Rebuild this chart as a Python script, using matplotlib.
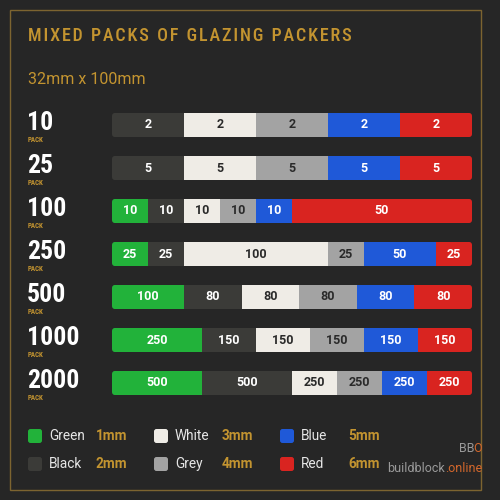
"""
Mixed packs of glazing packers - stacked colour bars.
"""

import matplotlib.pyplot as plt
import matplotlib.transforms as mtransforms
from matplotlib import font_manager
from matplotlib.patches import FancyBboxPatch, Rectangle


# ==========================================================
# Data
# ==========================================================

title = "MIXED PACKS OF GLAZING PACKERS"
subtitle = "32mm x 100mm"

packs = ["10", "25", "100", "250", "500", "1000", "2000"]

green = [0, 0, 10, 25, 100, 250, 500]
black = [2, 5, 10, 25, 80, 150, 500]
white = [2, 5, 10, 100, 80, 150, 250]
grey = [2, 5, 10, 25, 80, 150, 250]
blue = [2, 5, 10, 50, 80, 150, 250]
red = [2, 5, 50, 25, 80, 150, 250]

colour_names = ["Green", "Black", "White", "Grey", "Blue", "Red"]
thickness = ["1mm", "2mm", "3mm", "4mm", "5mm", "6mm"]

# ==========================================================
# Style
# ==========================================================

BG = "#262626"
GOLD = "#c39430"
BORDER = "#7d6430"
ORANGE = "#d2672c"
COLORS = ["#22b23a", "#3b3b38", "#efece6", "#a3a3a3", "#1f59d8", "#d92420"]
TEXT_ON = ["white", "white", "#2a2a2a", "#2a2a2a", "white", "white"]

SANS = ["Roboto", "DejaVu Sans"]


def pick_narrow():
    """First condensed family that is really installed."""
    for name in ["Roboto Condensed", "Liberation Sans Narrow",
                 "DejaVu Sans Condensed"]:
        try:
            font_manager.findfont(
                font_manager.FontProperties(family=name),
                fallback_to_default=False
            )
            return [name, "Roboto", "DejaVu Sans"], 1.0
        except ValueError:
            continue
    return ["Roboto", "DejaVu Sans"], 0.85


NARROW, SCALE = pick_narrow()


def spaced(text):
    # a hair space between letters, wider gap between words
    words = ["\u200a".join(w) for w in text.split(" ")]
    return "  ".join(words)


def px(x):
    return x / 500


def py(y):
    return 1 - y / 500


fig = plt.figure(figsize=(5, 5), dpi=100, facecolor=BG)

# frame
fig.patches.append(
    Rectangle(
        (px(10), py(490)), px(481) - px(10), py(10) - py(490),
        transform=fig.transFigure, fill=False,
        edgecolor=BORDER, linewidth=1.0
    )
)

fig.text(
    px(28), py(36), spaced(title),
    color=GOLD, fontsize=12 * SCALE + 1, family=NARROW,
    fontweight="medium", va="center"
)

fig.text(
    px(28), py(79), subtitle,
    color=GOLD, fontsize=11.5, family=SANS, va="center"
)

# ==========================================================
# Bars
# ==========================================================

ax = fig.add_axes([px(112), py(404.5), px(360), px(301)])
ax.set_xlim(0, 1)
ax.set_ylim(len(packs) - 0.5, -0.5)
ax.axis("off")

rows = list(range(len(packs)))
totals = [int(p) for p in packs]
series = [green, black, white, grey, blue, red]

bar_h = 0.56
aspect = (1 / 43) / (1 / 360)

clips = []
for i in rows:
    clip = FancyBboxPatch(
        (0, i - bar_h / 2), 1, bar_h,
        boxstyle="round,pad=0,rounding_size=0.009",
        mutation_aspect=aspect,
        transform=ax.transData,
        facecolor="none", edgecolor="none"
    )
    ax.add_patch(clip)
    clips.append(clip)

left = [0.0] * len(packs)
for values, color, tcol in zip(series, COLORS, TEXT_ON):
    widths = [v / t for v, t in zip(values, totals)]
    bars = ax.barh(
        rows, widths, left=left, height=bar_h,
        color=color, edgecolor="none", linewidth=0
    )
    for i, patch in enumerate(bars.patches):
        patch.set_clip_path(clips[i])
        if values[i] > 0:
            ax.text(
                left[i] + widths[i] / 2, i, str(values[i]),
                ha="center", va="center", color=tcol,
                fontsize=9, fontweight="bold", family=SANS
            )
    left = [l + w for l, w in zip(left, widths)]

# pack labels on the left
blend = mtransforms.blended_transform_factory(fig.transFigure, ax.transData)
for i, p in enumerate(packs):
    ax.text(
        px(27), i - 0.04, p, transform=blend,
        color="white", fontsize=16.5 * SCALE + 2, fontweight="bold",
        family=NARROW, ha="left", va="center", clip_on=False
    )
    ax.text(
        px(28), i + 0.34, "PACK", transform=blend,
        color=GOLD, fontsize=5, fontweight="bold",
        family=NARROW, ha="left", va="center", clip_on=False
    )

# ==========================================================
# Legend
# ==========================================================

for k, (name, mm, color) in enumerate(zip(colour_names, thickness, COLORS)):
    col = k // 2
    row = k % 2
    x0 = 28 + col * 126
    y0 = 436 + row * 28
    fig.patches.append(
        FancyBboxPatch(
            (px(x0), py(y0 + 7)), px(14), px(14),
            boxstyle="round,pad=0,rounding_size=0.005",
            transform=fig.transFigure,
            facecolor=color, edgecolor="none"
        )
    )
    fig.text(
        px(x0 + 21), py(y0), name, color="#e6e6e6",
        fontsize=9.8, family=SANS, va="center"
    )
    fig.text(
        px(x0 + 68), py(y0), mm, color=GOLD,
        fontsize=9.8, fontweight="bold", family=SANS, va="center"
    )

# brand
t_o = fig.text(
    px(482), py(449), "O", color=ORANGE,
    fontsize=9, family=SANS, ha="right", va="center"
)
ax.annotate(
    "BB", xy=(0, 0), xycoords=t_o, xytext=(1, 0),
    textcoords="offset points", color="#9a9a9a",
    fontsize=9, family=SANS, ha="right", va="bottom"
)

t_on = fig.text(
    px(482), py(468), ".online", color=ORANGE,
    fontsize=9, family=SANS, ha="right", va="center"
)
ax.annotate(
    "buildblock", xy=(0, 0), xycoords=t_on, color="#9a9a9a",
    fontsize=9, family=SANS, ha="right", va="bottom"
)

fig.savefig("out.png", dpi=100, facecolor=BG)
